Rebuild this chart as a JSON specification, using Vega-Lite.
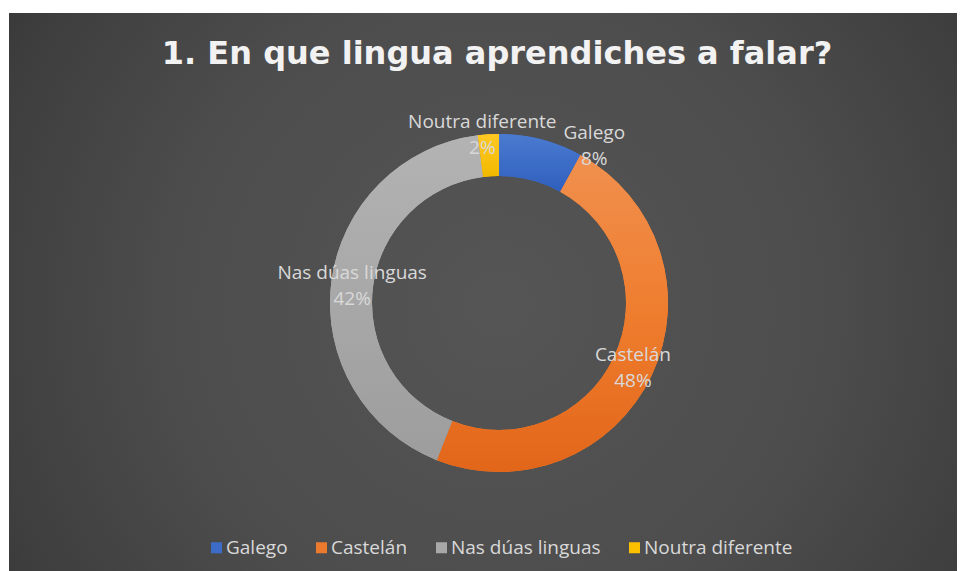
{
  "$schema": "https://vega.github.io/schema/vega-lite/v6.json",
  "width": 948,
  "height": 558,
  "autosize": {"type": "none"},
  "padding": {"left": 9, "top": 13, "right": 3, "bottom": 0},
  "background": "white",
  "view": {
    "stroke": null,
    "fill": {
      "gradient": "radial",
      "x1": 0.517, "y1": 0.514, "r1": 0,
      "x2": 0.517, "y2": 0.514, "r2": 0.75,
      "stops": [
        {"offset": 0, "color": "#555555"},
        {"offset": 0.45, "color": "#4d4d4d"},
        {"offset": 0.75, "color": "#3e3e3e"},
        {"offset": 1, "color": "#2a2a2a"}
      ]
    }
  },
  "title": {
    "text": "1. En que lingua aprendiches a falar?",
    "font": "DejaVu Sans",
    "fontSize": 32,
    "fontWeight": "bold",
    "color": "#f2f2f2",
    "anchor": "middle",
    "frame": "group",
    "baseline": "alphabetic",
    "offset": -83,
    "dx": 14
  },
  "data": {
    "values": [
      {"cat": "Galego", "pct": 8, "orden": 1},
      {"cat": "Castelán", "pct": 48, "orden": 2},
      {"cat": "Nas dúas linguas", "pct": 42, "orden": 3},
      {"cat": "Noutra diferente", "pct": 2, "orden": 4}
    ]
  },
  "transform": [
    {"calculate": "datum.cat + '\\n' + datum.pct + '%'", "as": "lbl"}
  ],
  "encoding": {
    "theta": {"field": "pct", "type": "quantitative", "stack": true},
    "order": {"field": "orden", "type": "quantitative"}
  },
  "layer": [
    {
      "mark": {"type": "arc", "outerRadius": 169, "innerRadius": 127, "xOffset": 16, "yOffset": 11, "stroke": null},
      "encoding": {
        "color": {
          "field": "cat",
          "type": "nominal",
          "sort": ["Galego", "Castelán", "Nas dúas linguas", "Noutra diferente"],
          "scale": {
            "domain": ["Galego", "Castelán", "Nas dúas linguas", "Noutra diferente"],
            "range": ["#3d6cc8", "#ec7a2e", "#a8a8a8", "#fcc000"]
          },
          "legend": {
            "title": null,
            "orient": "none",
            "legendX": 198,
            "legendY": 525,
            "direction": "horizontal",
            "symbolType": "square",
            "symbolSize": 121,
            "symbolStrokeWidth": 0,
            "symbolOpacity": 1,
            "labelFont": "Open Sans",
            "labelFontSize": 19,
            "labelColor": "#d9d9d9",
            "labelOffset": 0,
            "columnPadding": 24,
            "labelLimit": 300
          }
        }
      }
    },
    {
      "mark": {"type": "arc", "outerRadius": 169, "innerRadius": 127, "xOffset": 16, "yOffset": 11, "stroke": null,
        "fill": {"gradient": "linear", "x1": 0, "y1": 0, "x2": 0, "y2": 1, "stops": [{"offset": 0, "color": "#4a7bd0"}, {"offset": 1, "color": "#2f5fbd"}]}},
      "encoding": {
        "fillOpacity": {"condition": {"test": "datum.cat === 'Galego'", "value": 1}, "value": 0}
      }
    },
    {
      "mark": {"type": "arc", "outerRadius": 169, "innerRadius": 127, "xOffset": 16, "yOffset": 11, "stroke": null,
        "fill": {"gradient": "linear", "x1": 0, "y1": 0, "x2": 0, "y2": 1, "stops": [{"offset": 0, "color": "#f0904f"}, {"offset": 0.5, "color": "#ef7d2e"}, {"offset": 1, "color": "#e2661a"}]}},
      "encoding": {
        "fillOpacity": {"condition": {"test": "datum.cat === 'Castelán'", "value": 1}, "value": 0}
      }
    },
    {
      "mark": {"type": "arc", "outerRadius": 169, "innerRadius": 127, "xOffset": 16, "yOffset": 11, "stroke": null,
        "fill": {"gradient": "linear", "x1": 0, "y1": 0, "x2": 0, "y2": 1, "stops": [{"offset": 0, "color": "#b3b3b3"}, {"offset": 1, "color": "#9d9d9d"}]}},
      "encoding": {
        "fillOpacity": {"condition": {"test": "datum.cat === 'Nas dúas linguas'", "value": 1}, "value": 0}
      }
    },
    {
      "mark": {"type": "arc", "outerRadius": 169, "innerRadius": 127, "xOffset": 16, "yOffset": 11, "stroke": null,
        "fill": {"gradient": "linear", "x1": 0, "y1": 0, "x2": 0, "y2": 1, "stops": [{"offset": 0, "color": "#ffc824"}, {"offset": 1, "color": "#f2b900"}]}},
      "encoding": {
        "fillOpacity": {"condition": {"test": "datum.cat === 'Noutra diferente'", "value": 1}, "value": 0}
      }
    },
    {
      "mark": {"type": "text", "radius": 148, "xOffset": 16, "yOffset": 11, "dy": -11, "font": "Open Sans", "fontSize": 19, "color": "#d9d9d9", "lineBreak": "\n", "lineHeight": 26, "baseline": "middle", "align": "center"},
      "encoding": {
        "text": {"condition": {"test": "datum.cat === 'Castelán' || datum.cat === 'Nas dúas linguas'", "field": "lbl"}, "value": ""}
      }
    },
    {
      "mark": {"type": "text", "radius": 170, "xOffset": 16, "yOffset": 11, "dx": 53, "dy": -5, "font": "Open Sans", "fontSize": 19, "color": "#d9d9d9", "lineBreak": "\n", "lineHeight": 26, "baseline": "middle", "align": "center"},
      "encoding": {
        "text": {"condition": {"test": "datum.cat === 'Galego'", "field": "lbl"}, "value": ""}
      }
    },
    {
      "mark": {"type": "text", "radius": 170, "xOffset": 16, "yOffset": 11, "dx": -6, "dy": -11, "font": "Open Sans", "fontSize": 19, "color": "#d9d9d9", "lineBreak": "\n", "lineHeight": 26, "baseline": "middle", "align": "center"},
      "encoding": {
        "text": {"condition": {"test": "datum.cat === 'Noutra diferente'", "field": "lbl"}, "value": ""}
      }
    }
  ]
}
